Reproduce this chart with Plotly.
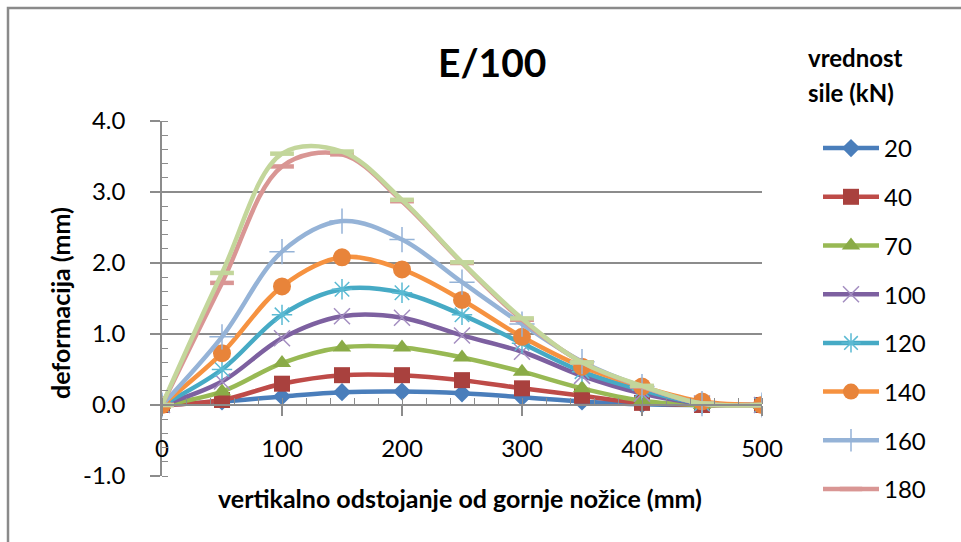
import plotly.graph_objects as go

# ---------------- data ----------------
x_mm = [0, 50, 100, 150, 200, 250, 300, 350, 400, 450, 500]

names = ["20", "40", "70", "100", "120", "140", "160", "180", "200"]

d20  = [0, 0.05, 0.12, 0.18, 0.19, 0.165, 0.11, 0.05, 0.01, 0.0, 0]
d40  = [0, 0.07, 0.30, 0.42, 0.42, 0.35, 0.235, 0.13, 0.03, 0.0, 0]
d70  = [0, 0.19, 0.59, 0.81, 0.81, 0.67, 0.47, 0.235, 0.06, 0.0, 0]
d100 = [0, 0.33, 0.94, 1.25, 1.23, 0.98, 0.75, 0.41, 0.16, 0.02, 0]
d120 = [0, 0.50, 1.27, 1.63, 1.58, 1.27, 0.87, 0.47, 0.21, 0.02, 0]
d140 = [0, 0.73, 1.67, 2.08, 1.91, 1.48, 0.96, 0.54, 0.26, 0.05, 0]
d160 = [0, 0.96, 2.16, 2.59, 2.33, 1.73, 1.14, 0.61, 0.26, 0.02, 0]
d180 = [0, 1.72, 3.36, 3.53, 2.87, 2.0, 1.20, 0.60, 0.26, 0.02, 0]
d200 = [0, 1.86, 3.54, 3.57, 2.89, 2.01, 1.22, 0.60, 0.27, 0.02, 0]

series = [d20, d40, d70, d100, d120, d140, d160, d180, d200]

y_ticks = [-1.0, 0.0, 1.0, 2.0, 3.0, 4.0]
x_ticks = [0, 100, 200, 300, 400, 500]

title_text = "E/100"
x_title = "vertikalno odstojanje od gornje nožice (mm)"
y_title = "deformacija (mm)"
legend_title_lines = ["vrednost", "sile (kN)"]

# ---------------- styles ----------------
line_colors = ["#4A7EBB", "#BE4B48", "#98B954", "#7D60A0", "#46AAC5",
               "#F69240", "#95B3D7", "#D99694", "#C3D69B"]
marker_colors = ["#4A7EBB", "#A9413E", "#8AAB47", "#A38DC0", "#5BBAD3",
                 "#E8843A", "#95B3D7", "#D99694", "#C3D69B"]
symbols = ["diamond", "square", "triangle-up", "x-thin-open", "asterisk-open",
           "circle", "cross-thin-open", "line-ew-open", "line-ew-open"]
msizes = [14, 16, 16, 16, 17, 18, 18, 17, 17]

FONT = "Lato"

fig = go.Figure()
for i, (nm, ys) in enumerate(zip(names, series)):
    sym = symbols[i]
    open_sym = sym.endswith("-open")
    marker = dict(symbol=sym, size=msizes[i], color=marker_colors[i])
    if open_sym:
        marker["line"] = dict(color=marker_colors[i], width=1.5 if i < 7 else 4.5)
    else:
        marker["line"] = dict(width=0)
    fig.add_trace(go.Scatter(
        x=x_mm, y=ys, name=nm, mode="lines+markers",
        line=dict(color=line_colors[i], width=4.5, shape="spline", smoothing=1.0),
        marker=marker, legendgroup=nm,
        showlegend=(i < 8),
    ))

W, H = 961, 542
L, R, T, B = 162, 762, 121, 476

def px(xp):
    return (xp - L) / (R - L)

def py(yp):
    return (B - yp) / (B - T)

grid_col = "#8C8C8C"

annotations = [
    dict(text=f"<b>{title_text}</b>", x=px(492), y=py(62), xref="paper", yref="paper",
         showarrow=False, font=dict(family=FONT, size=39, color="#000"),
         xanchor="center", yanchor="middle"),
    dict(text=f"<b>{x_title}</b>", x=px(460), y=py(498), xref="paper", yref="paper",
         showarrow=False, font=dict(family=FONT, size=25, color="#000"),
         xanchor="center", yanchor="middle"),
    dict(text=f"<b>{y_title}</b>", x=px(60), y=py(303), xref="paper", yref="paper",
         showarrow=False, textangle=-90, font=dict(family=FONT, size=25, color="#000"),
         xanchor="center", yanchor="middle"),
]
for j, (txt, yy) in enumerate(zip(legend_title_lines, [57, 92])):
    annotations.append(dict(text=f"<b>{txt}</b>", x=px(806), y=py(yy), xref="paper", yref="paper",
                            showarrow=False, font=dict(family=FONT, size=24, color="#000"),
                            xanchor="left", yanchor="middle"))

fig.update_layout(
    width=W, height=H,
    margin=dict(l=L, r=W - R, t=T, b=H - B, autoexpand=False),
    paper_bgcolor="white", plot_bgcolor="white",
    font=dict(family=FONT, size=24, color="#000000"),
    xaxis=dict(
        range=[0, 500], tickvals=x_ticks, ticktext=[str(v) for v in x_ticks],
        showgrid=False, zeroline=False,
        showline=True, linecolor=grid_col, linewidth=1.5,
        anchor="free", position=py(405),
        ticks="outside", ticklen=10, tickcolor=grid_col, tickwidth=1.5,
        minor=dict(dtick=20, ticks="inside", ticklen=6, tickcolor=grid_col, tickwidth=1.2),
        ticklabelstandoff=12,
        tickfont=dict(family=FONT, size=24, color="#000"),
        automargin=False,
    ),
    yaxis=dict(
        range=[-1, 4], tickvals=y_ticks, ticktext=[f"{v:.1f}" for v in y_ticks],
        showgrid=True, gridcolor=grid_col, gridwidth=1.5,
        zeroline=False,
        showline=True, linecolor=grid_col, linewidth=1.5,
        ticks="outside", ticklen=10, tickcolor=grid_col, tickwidth=1.5,
        minor=dict(dtick=0.2, ticks="inside", ticklen=6, tickcolor=grid_col, tickwidth=1.2,
                   showgrid=False),
        ticklabelstandoff=20,
        tickfont=dict(family=FONT, size=24, color="#000"),
        automargin=False,
    ),
    legend=dict(
        x=px(818), y=py(126), xanchor="left", yanchor="top",
        xref="paper", yref="paper",
        font=dict(family=FONT, size=24, color="#000"),
        itemwidth=56, tracegroupgap=14.5, bgcolor="rgba(0,0,0,0)",
        traceorder="grouped", maxheight=800,
    ),
    showlegend=True,
    annotations=annotations,
    shapes=[
        dict(type="rect", xref="paper", yref="paper",
             x0=px(8), x1=px(1000), y0=py(8), y1=py(600),
             line=dict(color="#8A8A8A", width=2.5), fillcolor="rgba(0,0,0,0)", layer="below"),
    ],
)

fig.write_html("out.html", post_script="document.body.style.margin='0px';",
               config={"displayModeBar": False})
